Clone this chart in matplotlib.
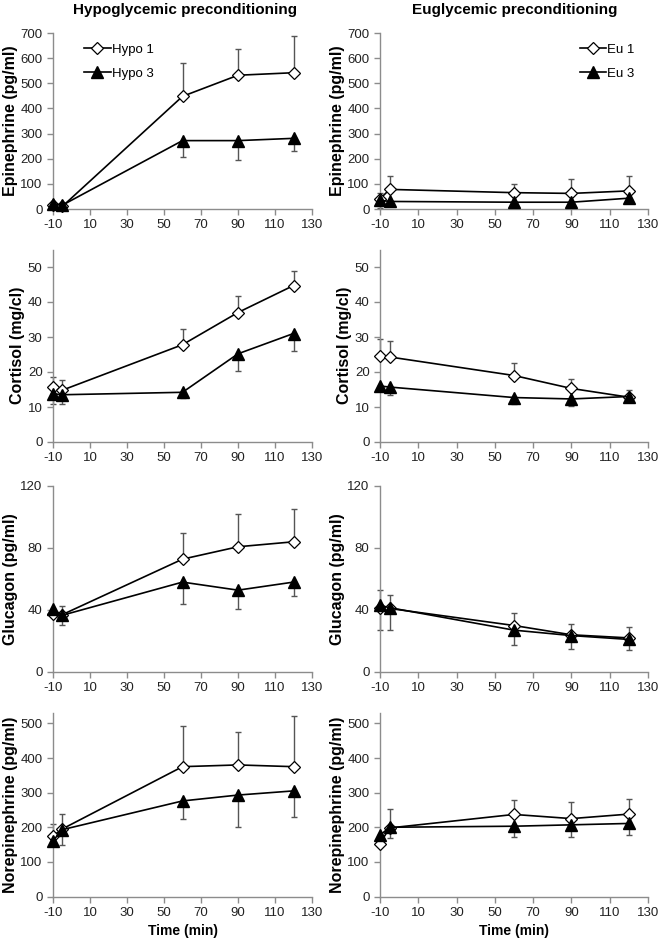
import matplotlib
matplotlib.use("Agg")
import matplotlib.pyplot as plt

plt.rcParams['font.family'] = ['Liberation Sans', 'DejaVu Sans']
plt.rcParams['axes.unicode_minus'] = False

# time points (min)
t = [-10, -5, 60, 90, 120]

# Epinephrine (pg/ml)
epi_hypo1 = [15, 10, 448, 532, 542]
epi_hypo1_hi = [25, 20, 580, 638, 690]
epi_hypo3 = [20, 15, 272, 272, 281]
epi_hypo3_lo = [10, 8, 205, 195, 230]
epi_eu1 = [40, 78, 65, 62, 72]
epi_eu1_hi = [65, 133, 99, 118, 131]
epi_eu3 = [35, 30, 27, 27, 43]
epi_eu3_lo = [5, 20, 20, 20, 25]

# Cortisol (mg/cl)
cor_hypo1 = [15.8, 14.8, 27.8, 37.0, 44.7]
cor_hypo1_hi = [18.6, 17.8, 32.2, 41.6, 48.8]
cor_hypo3 = [13.8, 13.5, 14.2, 25.2, 31.0]
cor_hypo3_lo = [11.0, 11.0, 12.5, 20.3, 26.0]
cor_eu1 = [24.5, 24.3, 19.0, 15.3, 12.8]
cor_eu1_hi = [29.5, 29.0, 22.5, 18.0, 14.8]
cor_eu3 = [16.0, 15.7, 12.7, 12.3, 13.0]
cor_eu3_lo = [14.5, 13.3, 10.8, 10.3, 11.3]

# Glucagon (pg/ml)
glu_hypo1 = [37.3, 37.0, 72.8, 80.8, 84.0]
glu_hypo1_hi = [40.0, 42.7, 90.0, 101.7, 105.2]
glu_hypo3 = [40.5, 36.6, 58.0, 52.8, 58.0]
glu_hypo3_lo = [38.5, 30.2, 43.8, 40.5, 49.0]
glu_eu1 = [41, 41, 30, 24, 22]
glu_eu1_hi = [53, 50, 38, 31, 29]
glu_eu3 = [43, 41.5, 27, 23.5, 21]
glu_eu3_lo = [27, 27, 17.5, 15, 14]

# Norepinephrine (pg/ml)
ne_hypo1 = [175, 195, 375, 380, 375]
ne_hypo1_hi = [209, 238, 493, 476, 521]
ne_hypo3 = [161, 193, 276, 293, 305]
ne_hypo3_lo = [145, 149, 224, 202, 230]
ne_eu1 = [153, 198, 237, 225, 238]
ne_eu1_hi = [160, 252, 278, 274, 283]
ne_eu3 = [177, 200, 203, 207, 211]
ne_eu3_lo = [165, 170, 172, 172, 178]

rows = [
    ("Epinephrine (pg/ml)", 700, range(0, 701, 100),
     (epi_hypo1, epi_hypo1_hi, epi_hypo3, epi_hypo3_lo),
     (epi_eu1, epi_eu1_hi, epi_eu3, epi_eu3_lo)),
    ("Cortisol (mg/cl)", 55, range(0, 51, 10),
     (cor_hypo1, cor_hypo1_hi, cor_hypo3, cor_hypo3_lo),
     (cor_eu1, cor_eu1_hi, cor_eu3, cor_eu3_lo)),
    ("Glucagon (pg/ml)", 120, range(0, 121, 40),
     (glu_hypo1, glu_hypo1_hi, glu_hypo3, glu_hypo3_lo),
     (glu_eu1, glu_eu1_hi, glu_eu3, glu_eu3_lo)),
    ("Norepinephrine (pg/ml)", 530, range(0, 501, 100),
     (ne_hypo1, ne_hypo1_hi, ne_hypo3, ne_hypo3_lo),
     (ne_eu1, ne_eu1_hi, ne_eu3, ne_eu3_lo)),
]

fig = plt.figure(figsize=(6.6, 9.42), dpi=100)

W, H = 660.0, 942.0
cols_px = [(53, 312), (380, 648)]
rows_px = [(33, 209), (249.5, 442), (486, 672), (713, 896.5)]

gray = '#8c8c8c'
ebc = '#555555'

for r, (ylab, ytop, yticks, hypo, eu) in enumerate(rows):
    for c, data in enumerate([hypo, eu]):
        x0, x1 = cols_px[c]
        y0, y1 = rows_px[r]
        ax = fig.add_axes([x0 / W, 1 - y1 / H, (x1 - x0) / W, (y1 - y0) / H])
        v1, hi1, v3, lo3 = data
        up = [h - v for h, v in zip(hi1, v1)]
        dn = [v - l for v, l in zip(v3, lo3)]
        for eb in (ax.errorbar(t, v1, yerr=[[0] * len(t), up], fmt='none', ecolor=ebc,
                               elinewidth=1.0, capsize=2.5, capthick=1.0, zorder=1),
                   ax.errorbar(t, v3, yerr=[dn, [0] * len(t)], fmt='none', ecolor=ebc,
                               elinewidth=1.0, capsize=2.5, capthick=1.0, zorder=1)):
            for art in eb.lines[1] + eb.lines[2]:
                art.set_clip_on(False)
        names = ("Hypo 1", "Hypo 3") if c == 0 else ("Eu 1", "Eu 3")
        ax.plot(t, v1, color='black', lw=1.2, marker='D', ms=6.5,
                mfc='white', mec='black', mew=0.9, label=names[0], zorder=3,
                clip_on=False)
        ax.plot(t, v3, color='black', lw=1.2, marker='^', ms=8,
                mfc='black', mec='black', label=names[1], zorder=3,
                clip_on=False)

        ax.set_xlim(-10, 130)
        ax.set_xticks(range(-10, 131, 20))
        ax.set_ylim(0, ytop)
        ax.set_yticks(list(yticks))
        for s in ['top', 'right']:
            ax.spines[s].set_visible(False)
        for s in ['left', 'bottom']:
            ax.spines[s].set_color(gray)
            ax.spines[s].set_linewidth(1.0)
        ax.tick_params(axis='both', colors=gray, labelcolor='#222222',
                       labelsize=9.5, length=4, width=1.0)
        ax.set_ylabel(ylab, fontsize=11.5, fontweight='bold', labelpad=2)
        if r == 3:
            ax.set_xlabel("Time (min)", fontsize=10, fontweight='bold', labelpad=4)
        if r == 0:
            if c == 0:
                ax.legend(loc='upper left', bbox_to_anchor=(0.1, 0.97),
                          frameon=False, fontsize=9.5, handlelength=2.0,
                          handletextpad=0.1, labelspacing=0.9, borderaxespad=0)
            else:
                ax.legend(loc='upper right', bbox_to_anchor=(0.97, 0.97),
                          frameon=False, fontsize=9.5, handlelength=2.0,
                          handletextpad=0.1, labelspacing=0.9, borderaxespad=0)

fig.text(185 / W, 1 - 10 / H, "Hypoglycemic preconditioning", ha='center',
         va='center', fontsize=11, fontweight='bold')
fig.text(515 / W, 1 - 10 / H, "Euglycemic preconditioning", ha='center',
         va='center', fontsize=11, fontweight='bold')

fig.savefig("out.png", dpi=100)
